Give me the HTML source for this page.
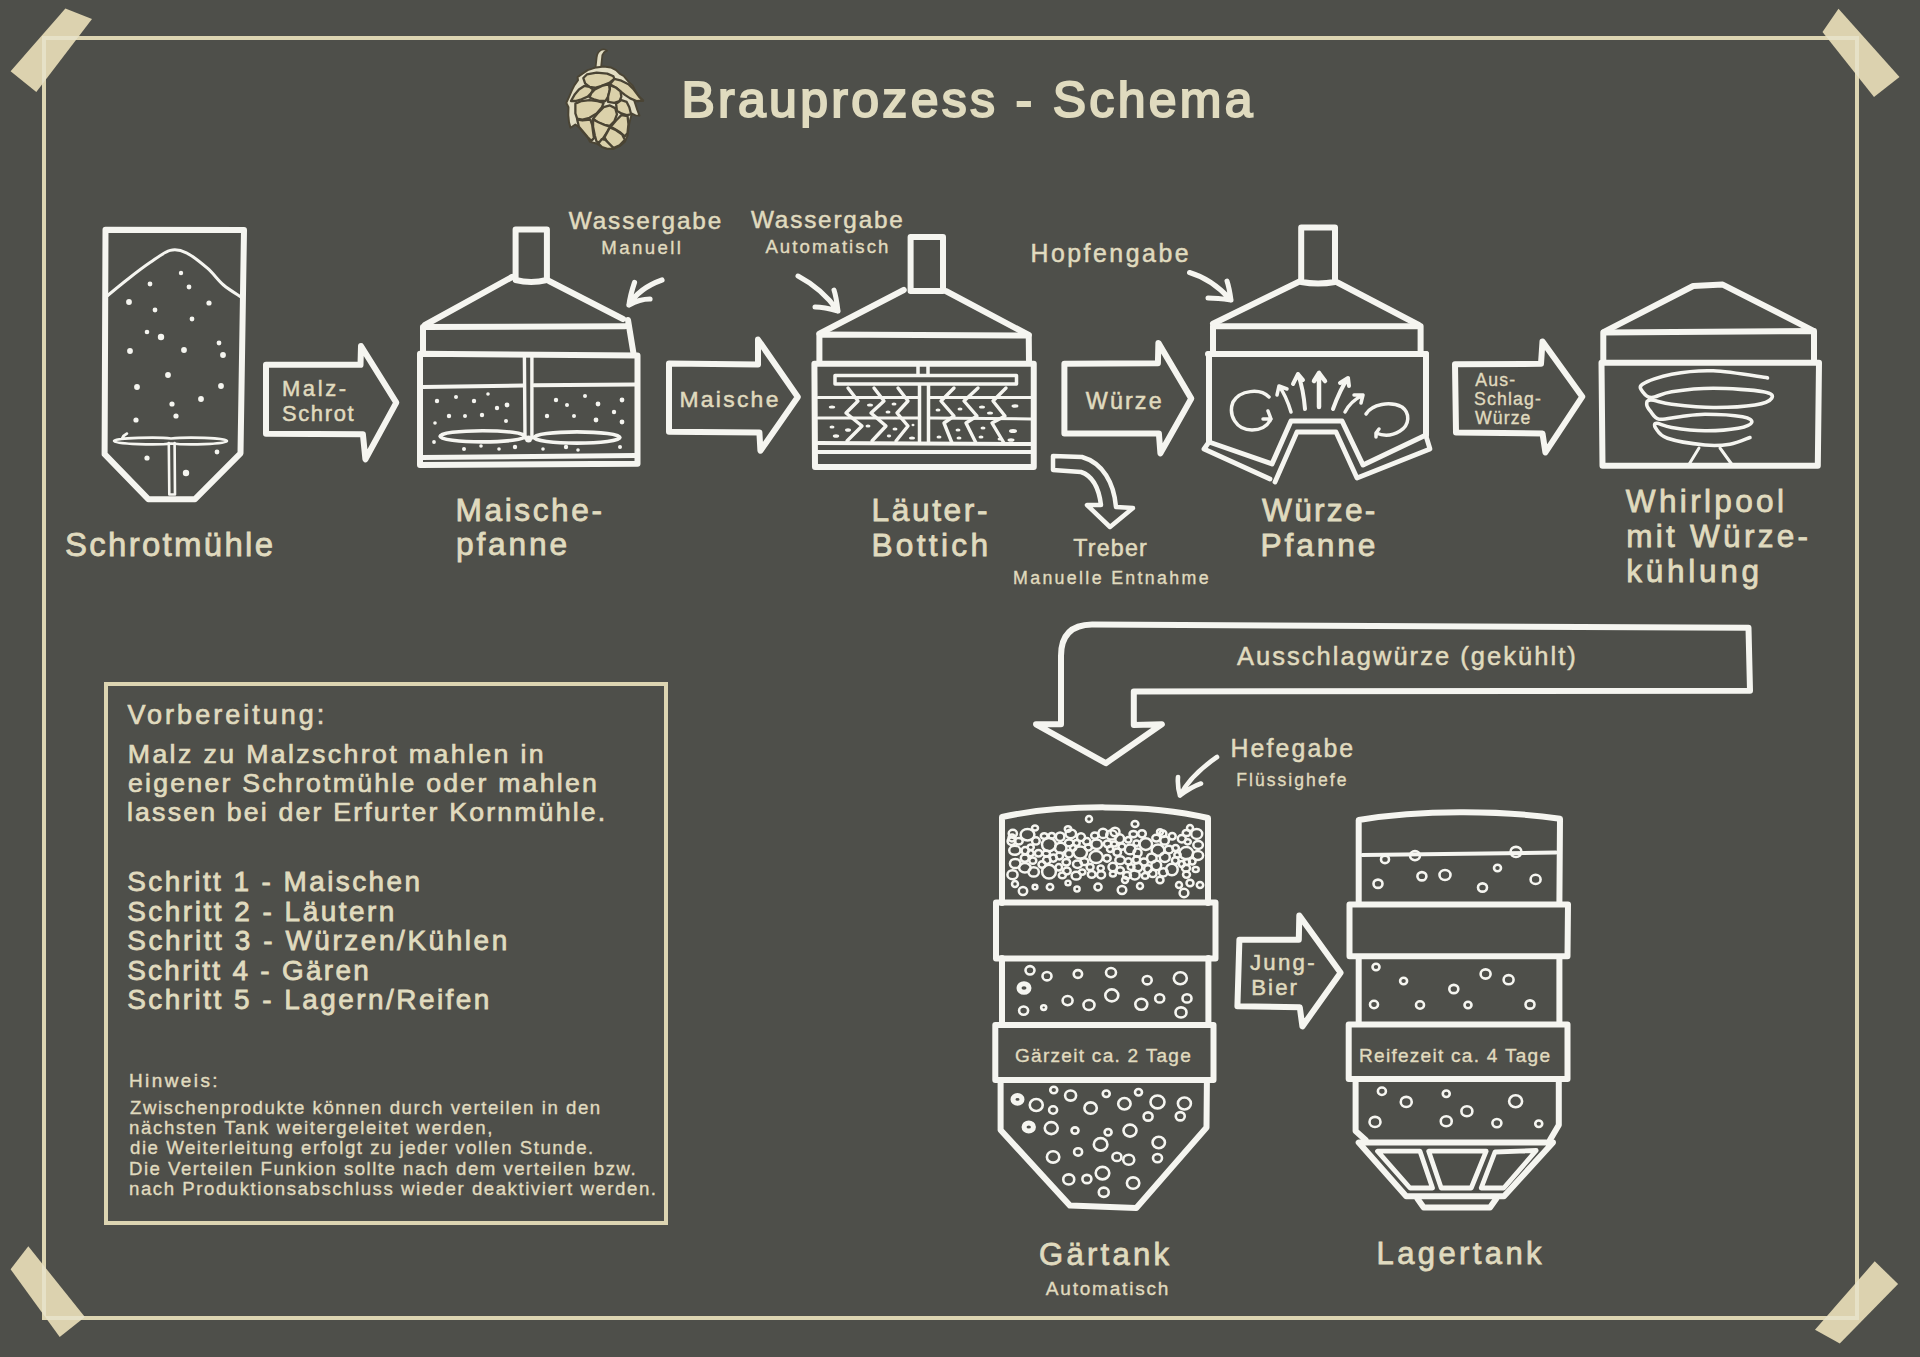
<!DOCTYPE html>
<html>
<head>
<meta charset="utf-8">
<style>
html,body{margin:0;padding:0;background:#4e4f4a;}
body{width:1920px;height:1357px;overflow:hidden;}
svg{display:block;}
text{font-family:"Liberation Sans",sans-serif;fill:#e0dbbf;stroke:#e0dbbf;stroke-width:0.7px;}
.w{fill:none;stroke:#f5f5f0;stroke-width:6;stroke-linejoin:round;stroke-linecap:round;}
.wt{fill:none;stroke:#f5f5f0;stroke-width:3.5;stroke-linejoin:round;stroke-linecap:round;}
.wn{fill:none;stroke:#f5f5f0;stroke-width:2.5;stroke-linejoin:round;stroke-linecap:round;}
.dot{fill:#f5f5f0;}
.bub{fill:none;stroke:#f5f5f0;stroke-width:2.6;}
</style>
</head>
<body>
<svg width="1920" height="1357" viewBox="0 0 1920 1357">
<rect x="0" y="0" width="1920" height="1357" fill="#4e4f4a"/>
<!-- frame -->
<rect x="44" y="38" width="1813" height="1280" fill="none" stroke="#ddd5b2" stroke-width="4"/>
<!-- tapes -->
<g fill="#dcd2af">
<polygon points="65.4,8.4 92,19 36.3,92 10.6,71.2"/>
<polygon points="1838.5,8.8 1899.5,77 1874,97 1822.5,32"/>
<polygon points="28.3,1246.3 84.9,1317 59.7,1337 10.6,1269.3"/>
<polygon points="1874.7,1261.3 1898.1,1283.9 1839.8,1343.5 1815,1329.8"/>
</g>
<clipPath id="tapeclip">
<polygon points="65.4,8.4 92,19 36.3,92 10.6,71.2"/>
<polygon points="1838.5,8.8 1899.5,77 1874,97 1822.5,32"/>
<polygon points="28.3,1246.3 84.9,1317 59.7,1337 10.6,1269.3"/>
<polygon points="1874.7,1261.3 1898.1,1283.9 1839.8,1343.5 1815,1329.8"/>
</clipPath>
<rect clip-path="url(#tapeclip)" x="44" y="38" width="1813" height="1280" fill="none" stroke="#e6e1c7" stroke-width="4"/>

<!-- TITLE -->

<g transform="translate(540,40) scale(0.08844)" stroke="#4a4434" stroke-linejoin="round">
<path fill="#e2ddc3" stroke-width="20" d="M628,312 L640,200 C645,150 660,125 700,108 C725,102 745,108 758,120 C735,128 718,140 705,170 L690,312 Z"/>
<path fill="#e2ddc3" stroke-width="22" d="M640,310 L720,300 L800,310 L860,340 L900,380 L950,410 L1000,470 L1050,520 L1090,600 L1120,650 L1165,685 L1100,692 L1060,670 L1080,730 L1100,790 L1125,855 L1080,852 L1040,832 L1020,900 L1000,990 L990,1080 L960,1150 L900,1200 L830,1232 L750,1225 L680,1195 L640,1170 L565,1152 L540,1100 L490,1040 L440,985 L400,955 L345,992 L328,930 L320,850 L322,760 L298,712 L330,640 L360,570 L390,510 L430,455 L425,420 L480,380 L540,340 L600,320 Z"/>
<path fill="#dbd1aa" stroke-width="26" d="M490,430 L530,390 L640,370 L760,380 L830,410 L840,440 L790,480 L690,520 L620,540 L560,530 L510,490 Z"/>
<path fill="#dbd1aa" stroke-width="26" d="M840,440 L920,460 L1000,500 L1060,560 L1120,640 L1165,685 L1090,690 L1020,660 L960,620 L910,580 L860,540 L790,500 Z"/>
<path fill="#dbd1aa" stroke-width="26" d="M350,690 L390,620 L440,560 L500,520 L560,530 L600,560 L580,600 L540,640 L470,670 L400,690 Z"/>
<path fill="#dbd1aa" stroke-width="26" d="M560,650 L580,600 L620,560 L700,520 L780,500 L790,560 L770,640 L740,690 L680,690 L610,670 Z"/>
<path fill="#dbd1aa" stroke-width="26" d="M790,510 L860,540 L910,580 L920,640 L900,690 L840,710 L770,700 L770,640 L790,560 Z"/>
<path fill="#dbd1aa" stroke-width="26" d="M400,720 L470,690 L560,680 L650,690 L720,710 L700,760 L640,830 L560,880 L480,900 L420,890 L400,830 Z"/>
<path fill="#dbd1aa" stroke-width="26" d="M860,720 L920,680 L980,700 L1010,760 L1030,840 L980,850 L920,830 L870,800 Z"/>
<path fill="#dbd1aa" stroke-width="26" d="M600,890 L650,830 L720,760 L790,740 L850,770 L870,840 L840,920 L790,970 L720,960 L650,930 Z"/>
<path fill="#dbd1aa" stroke-width="26" d="M800,980 L860,910 L920,850 L990,860 L1000,950 L990,1050 L960,1090 L900,1040 L850,1010 Z"/>
<path fill="#dbd1aa" stroke-width="26" d="M420,900 L480,910 L570,900 L590,960 L600,1040 L610,1110 L580,1140 L540,1100 L490,1040 L440,980 Z"/>
<path fill="#dbd1aa" stroke-width="26" d="M600,900 L660,930 L730,960 L790,980 L760,1040 L720,1100 L680,1160 L640,1150 L620,1080 L600,980 Z"/>
<path fill="#dbd1aa" stroke-width="26" d="M730,1100 L790,990 L860,1020 L930,1070 L960,1130 L900,1190 L830,1222 L760,1160 Z"/>
<path fill="#dbd1aa" stroke-width="26" d="M660,1170 L700,1120 L740,1130 L790,1180 L830,1222 L760,1230 L700,1210 Z"/>
</g>

<!-- SCHROTMUEHLE -->
<g>
<path class="w" d="M105.5,229.7 L244,230 L240.5,453.3 L195,499.2 L148.3,499.2 L104.6,454.2 Z"/>
<path class="wt" style="stroke-width:3px" d="M107.0,296.0 C110.5,293.2 120.8,284.6 128.0,279.0 C135.2,273.4 142.9,267.4 150.0,262.6 C157.1,257.8 164.2,252.0 170.3,250.4 C176.4,248.8 180.2,249.8 186.4,252.8 C192.6,255.8 201.2,262.8 207.4,268.2 C213.6,273.6 217.9,280.2 223.5,285.0 C229.1,289.8 238.1,295.0 241.0,297.0"/>
<path class="wn" style="stroke-width:2.6px" d="M114,441 C114,437.5 160,437 171,438.5 C185,437 227,437.5 227,441 C227,444.5 185,445 171,443.5 C160,445 114,444.5 114,441 Z M122,438.5 C123,436 125,434.5 127,433.5"/>
<path class="wn" style="stroke-width:2.6px" d="M168.8,443 L169.3,494.5 L175,494.5 L174.6,443"/>
<g class="dot">
<circle cx="181" cy="273" r="2.2"/><circle cx="150" cy="284" r="2.4"/><circle cx="189" cy="287" r="2.4"/>
<circle cx="129" cy="302" r="2.9"/><circle cx="209" cy="303" r="2.6"/><circle cx="155" cy="310" r="2.4"/>
<circle cx="192" cy="319" r="2.4"/><circle cx="147" cy="332" r="2.3"/><circle cx="161" cy="337" r="3.2"/>
<circle cx="219" cy="343" r="2.4"/><circle cx="130" cy="351" r="2.9"/><circle cx="184" cy="350" r="2.9"/>
<circle cx="223" cy="355" r="2.9"/><circle cx="168" cy="375" r="2.9"/><circle cx="137" cy="387" r="2.9"/>
<circle cx="221" cy="386" r="2.9"/><circle cx="201" cy="399" r="2.9"/><circle cx="172" cy="404" r="2.6"/>
<circle cx="176" cy="416" r="2.6"/><circle cx="136" cy="420" r="2.6"/><circle cx="147" cy="458" r="2.6"/>
<circle cx="217" cy="452" r="2.4"/><circle cx="186" cy="473" r="3.2"/>
</g>
</g>

<!-- arrow Malz-Schrot -->
<path class="w" d="M266,364.8 L360.5,364.8 L361,346 L396.3,402.6 L365.4,459.3 L362.9,434.3 L266,433.8 Z"/>

<!-- MAISCHEPFANNE -->
<g>
<path class="w" d="M515.6,280 L515.6,229.4 L546.9,229.4 L546.9,280 Q531,284 515.6,280 Z"/>
<path class="w" d="M512,277 L425,325 M549,281 L623,319"/>
<path class="w" d="M423,353 L423,327 L625,326.3 M628,320 L633.5,353.5"/>
<path class="w" d="M420,353.75 L637.5,355.6 L637.5,463.75 L420,465 Z"/>
<path class="w" style="stroke-width:4px" d="M423,386.9 L523,385.5 M534,385.3 L635,384.4"/>
<path class="w" style="stroke-width:5px" d="M422,457.5 L636,455.6"/>
<path class="wt" style="stroke-width:3.4px" d="M524.4,356 L525,438 M531.9,356 L531.9,438"/>
<ellipse class="wt" style="stroke-width:3.6px" cx="482.5" cy="436.3" rx="42.5" ry="5.6"/><ellipse class="wt" style="stroke-width:3.6px" cx="577" cy="437.5" rx="43" ry="5.6"/><circle cx="528.5" cy="439" r="3.5" fill="#f5f5f0"/>
<g class="dot">
<circle cx="437" cy="401" r="2.2"/><circle cx="456" cy="397" r="2.0"/><circle cx="474" cy="401" r="2.2"/>
<circle cx="488" cy="394" r="1.8"/><circle cx="497" cy="408" r="2.2"/><circle cx="507" cy="405" r="2.4"/>
<circle cx="449" cy="416" r="2.2"/><circle cx="465" cy="416" r="2.0"/><circle cx="482" cy="415" r="2.2"/>
<circle cx="435" cy="423" r="1.8"/><circle cx="506" cy="421" r="2.0"/>
<circle cx="556" cy="400" r="2.2"/><circle cx="585" cy="396" r="2.0"/><circle cx="598" cy="404" r="2.4"/>
<circle cx="622" cy="400" r="2.4"/><circle cx="567" cy="405" r="2.0"/><circle cx="547" cy="416" r="2.2"/>
<circle cx="574" cy="416" r="2.0"/><circle cx="596" cy="420" r="2.4"/><circle cx="614" cy="412" r="2.2"/>
<circle cx="622" cy="422" r="2.4"/>
<circle cx="434" cy="442" r="1.9"/><circle cx="464" cy="449" r="2.0"/><circle cx="481" cy="446" r="1.8"/>
<circle cx="499" cy="449" r="1.8"/><circle cx="515" cy="447" r="2.2"/><circle cx="543" cy="449" r="1.8"/>
<circle cx="566" cy="447" r="2.2"/><circle cx="578" cy="450" r="1.8"/><circle cx="620" cy="447" r="2.0"/>
</g>
</g>

<!-- Wassergabe Manuell -->
<path class="w" style="stroke-width:5.2px" d="M662,280 C648,285 636,293 629,305 M629,305 C630,297 632,290 634.5,282.5 M629,305 C636,301 643,299 650,299"/>

<!-- arrow Maische -->
<path class="w" d="M669,363.5 L758,364.5 L758,339.6 L797.8,397 L760.4,450.7 L759.4,432.5 L669,431.8 Z"/>

<!-- LAEUTERBOTTICH -->
<g>
<path class="w" d="M910.6,291 L910.6,237 L943,237 L943,291 Z"/>
<path class="w" d="M903.75,290 L819.4,333.75 M946.25,291.25 L1028.75,335"/>
<path class="w" d="M819.4,362.5 L819.4,334.4 L1028.75,335.6 L1029,362.5"/>
<path class="w" d="M814.4,363.75 L1033.75,363.75 L1033.75,467 L815,467 Z"/>
<path class="wt" d="M835,375.5 L1016.5,375.5 L1016.5,384 L835,384 Z"/>
<path class="wt" d="M918,364 L918,375 M928,364 L928,375"/>
<path class="wt" d="M919.5,385 L919.5,443 M928.5,385 L928.5,443"/>
<path class="wt" style="stroke-width:3px" d="M818,397.5 L918,397.5 M930,397.5 L1031,397.5"/>
<path class="wt" style="stroke-width:3px" d="M818,418 L918,418 M930,418 L1031,419"/>
<path class="w" style="stroke-width:4px" d="M818,443 L1031,444"/>
<path class="w" style="stroke-width:4px" d="M818,452 L1031,452"/>
<path class="wn" style="stroke-width:3.4px" d="M848,388 L858,401 L846,413 L862,426 L847,441 M874,388 L884,401 L871,413 L886,426 L872,441 M898,388 L908,401 L897,413 L908,426 L896,441"/>
<path class="wn" style="stroke-width:3.4px" d="M954,388 L941,401 L954,416 L944,423 L952,443 M978,388 L964,401 L977,416 L966,423 L976,443 M1006,388 L993,401 L1005,416 L992,423 L1004,443"/>
<g class="dot">
<ellipse cx="832" cy="407" rx="3.2" ry="1.6"/><ellipse cx="870" cy="405" rx="3" ry="1.6"/><ellipse cx="894" cy="404" rx="2.5" ry="1.5"/>
<ellipse cx="888" cy="412" rx="2.5" ry="1.5"/><ellipse cx="832" cy="427" rx="2.5" ry="1.6"/><ellipse cx="848" cy="430" rx="3" ry="1.8"/>
<ellipse cx="836" cy="436" rx="3.2" ry="1.8"/><ellipse cx="868" cy="426" rx="2.5" ry="1.5"/><ellipse cx="895" cy="429" rx="2.5" ry="1.6"/>
<ellipse cx="889" cy="436" rx="2.2" ry="1.4"/><ellipse cx="912" cy="438" rx="3" ry="1.6"/><ellipse cx="913" cy="425" rx="1.5" ry="1.2"/>
<ellipse cx="938" cy="410" rx="2.5" ry="1.5"/><ellipse cx="960" cy="409" rx="2.5" ry="1.5"/><ellipse cx="982" cy="407" rx="3" ry="1.6"/>
<ellipse cx="990" cy="413" rx="3" ry="1.6"/><ellipse cx="1015" cy="406" rx="3.5" ry="1.8"/><ellipse cx="958" cy="430" rx="2.5" ry="1.5"/>
<ellipse cx="983" cy="428" rx="2.5" ry="1.5"/><ellipse cx="1013" cy="431" rx="4" ry="2"/><ellipse cx="939" cy="437" rx="2.5" ry="1.5"/>
<ellipse cx="959" cy="438" rx="2.5" ry="1.6"/><ellipse cx="981" cy="437" rx="2.5" ry="1.5"/><ellipse cx="1000" cy="439" rx="2.5" ry="1.6"/>
<ellipse cx="1011" cy="440" rx="3.5" ry="1.8"/>
</g>
</g>

<!-- Wassergabe Automatisch -->
<path class="w" style="stroke-width:5px" d="M798,276 C815,285 828,297 838,311 M838,311 C837,303 836,296 834,290 M838,311 C831,309 823,307 815,307"/>

<!-- arrow Wuerze -->
<path class="w" d="M1064.4,363.8 L1157.9,363.3 L1158.4,342.9 L1191.3,398.6 L1160.4,453.3 L1158.9,433.5 L1064.4,433.5 Z"/>

<!-- Treber arrow -->
<path class="w" style="stroke-width:4.5px" d="M1053,456 L1082,457 C1103,463 1114,483 1116,507 L1133,508 L1110,527 L1087,505 L1101,505 C1099,489 1093,476 1081,472 L1053,470 Z"/>

<!-- Hopfengabe -->
<path class="w" style="stroke-width:5px" d="M1189.5,272.5 C1205,277 1220,288 1231,300 M1231,300 C1230,293 1229,287 1227,281 M1231,300 C1224,299 1216,298 1208,298"/>

<!-- WUERZEPFANNE -->
<g>
<path class="w" d="M1301.2,282 L1301.2,227.5 L1335,227.5 L1335,282 Q1318,285 1301.2,282 Z"/>
<path class="w" d="M1300,281.25 L1213,323.75 M1337.5,282.5 L1418.75,325"/>
<path class="w" d="M1213,351.25 L1213,326.25 L1420.6,326.25 L1420.6,351.25"/>
<path class="w" d="M1208,354 L1426,354"/>
<path class="w" d="M1209,354 L1209,442 M1426,435 L1426,354"/><path class="w" style="stroke-width:5px" d="M1209,442 L1272,464 L1291,421 L1342,421 L1363,465 L1426,435"/>
<path class="w" style="stroke-width:4.8px" d="M1209,442 L1204,449 L1270,479"/>
<path class="w" style="stroke-width:4.8px" d="M1275,482 L1297,432 L1336,432 L1357,478 L1430,449 L1426,436"/>
<!-- swirl arrows -->
<path class="wt" d="M1269,397 C1260,388 1240,390 1233,402 C1228,415 1236,430 1252,430 C1262,430 1268,425 1271,419 M1271,419 L1268,411 M1271,419 L1263,419"/>
<path class="wt" d="M1366,414 C1372,404 1390,401 1402,407 C1410,413 1410,425 1400,431 C1392,436 1383,436 1376,433 M1376,433 L1379,429 M1376,433 L1376,437"/>
<path class="wt" style="stroke-width:3.5px" d="M1291,412 C1288,402 1285,394 1279,386 M1279,386 L1277,395 M1279,386 L1287,389"/>
<path class="wt" style="stroke-width:4px" d="M1305,409 C1304,397 1302,385 1298,374 M1298,374 L1293,384 M1298,374 L1303,380"/>
<path class="wt" style="stroke-width:4.5px" d="M1319,407 L1319,373 M1319,373 L1314,381 M1319,373 L1325,381"/>
<path class="wt" style="stroke-width:4px" d="M1333,409 C1337,398 1341,388 1348,378 M1348,378 L1340,383 M1348,378 L1349,386"/>
<path class="wt" style="stroke-width:3.5px" d="M1345,412 C1349,404 1355,399 1363,395 M1363,395 L1354,395 M1363,395 L1361,403"/>
</g>

<!-- arrow Ausschlag -->
<path class="w" d="M1455,364.3 L1541,363.8 L1542.5,341.4 L1582.3,396.7 L1545.4,452.4 L1542.5,433.5 L1456,432.5 Z"/>

<!-- WHIRLPOOL -->
<g>
<path class="w" d="M1604,331.8 L1693.2,286 L1722.7,284.6 L1812.6,330.3"/>
<path class="w" d="M1603.3,362 L1603.3,332.5 L1814,331 L1814,362"/>
<path class="w" d="M1601.5,362.7 L1819,362.7 L1817.8,465.8 L1602.5,465.8 Z"/>
<path class="wt" style="stroke-width:3.6px" d="M1767.5,377.9 C1758.5,376.7 1729.3,371.4 1713.3,370.8 C1697.3,370.2 1683.5,372.0 1671.7,374.2 C1659.9,376.4 1647.2,381.1 1642.5,384.2 C1637.8,387.2 1641.8,390.3 1643.3,392.5 C1644.8,394.7 1647.0,397.6 1651.7,397.5 C1656.4,397.4 1661.4,393.2 1671.7,391.7 C1682.0,390.2 1698.0,388.3 1713.3,388.3 C1728.6,388.3 1753.6,390.0 1763.3,391.7 C1773.0,393.4 1773.1,396.1 1771.7,398.3 C1770.3,400.5 1764.7,403.5 1755.0,405.0 C1745.3,406.5 1727.2,407.6 1713.3,407.5 C1699.4,407.4 1682.1,405.4 1671.7,404.2 C1661.3,402.9 1655.0,400.0 1650.8,400.0 C1646.6,400.0 1646.7,402.2 1646.7,404.2 C1646.7,406.1 1648.7,409.2 1650.8,411.7 C1652.9,414.2 1654.3,418.4 1659.2,419.2 C1664.1,420.0 1672.4,417.5 1680.0,416.7 C1687.6,415.9 1694.6,414.2 1705.0,414.2 C1715.4,414.2 1734.7,415.3 1742.5,416.7 C1750.3,418.1 1752.4,420.6 1751.7,422.5 C1751.0,424.4 1746.1,426.9 1738.3,428.3 C1730.5,429.7 1716.1,430.9 1705.0,430.8 C1693.9,430.7 1679.8,428.8 1671.7,427.5 C1663.7,426.2 1659.4,423.2 1656.7,423.3 C1654.0,423.4 1654.0,425.8 1655.8,428.3 C1657.6,430.8 1659.3,435.5 1667.5,438.3 C1675.7,441.1 1694.6,444.0 1705.0,445.0 C1715.4,446.0 1722.5,445.4 1730.0,444.2 C1737.5,442.9 1746.7,438.6 1750.0,437.5"/>
<path class="wn" style="stroke-width:3px" d="M1699,448 L1688,466 M1720,448 L1733,466"/>
</g>

<!-- Ausschlagwuerze big arrow -->
<path class="w" d="M1748.5,627.7 L1092,624.6 Q1061,625 1061,656 L1061,724.3 L1036,724.3 L1105.8,763.2 L1161.8,724.3 L1133.8,725 L1133.8,691.5 L1750,690.7 Z"/>

<!-- Hefegabe -->
<path class="w" style="stroke-width:4.6px" d="M1217,757 C1204,766 1189,778 1180,795.5 M1180,795.5 C1178,789 1177.5,783 1178,777 M1180,795.5 C1187,790 1194,786 1201,783.5"/>

<!-- GAERTANK -->
<g>
<path class="w" d="M1002,903 L1002,817 C1060,804 1150,804 1208,818 L1208,903"/>
<path class="w" d="M996,902.5 L1215.5,902.5 L1215.5,958.5 L996,958.5 Z"/>
<path class="w" d="M1002,958 L1002,1025 M1208.4,958 L1208.4,1025"/>
<path class="w" d="M995.3,1025 L1213.5,1025 L1213.5,1080 L995.3,1080 Z"/>
<path class="w" d="M1000.6,1080 L1000.6,1130 L1070,1205.6 L1136.3,1208 L1206.5,1127.5 L1206.9,1080"/>
<g class="bub" style="stroke-width:2.5px"><ellipse cx="1096.1" cy="857.1" rx="6.7" ry="6.0"/><ellipse cx="1107.0" cy="858.3" rx="3.7" ry="3.4"/><ellipse cx="1131.1" cy="867.1" rx="3.4" ry="2.9"/><ellipse cx="1024.9" cy="867.8" rx="5.8" ry="4.7"/><ellipse cx="1128.3" cy="839.8" rx="3.1" ry="2.8"/><ellipse cx="1018.7" cy="841.2" rx="4.0" ry="3.2"/><ellipse cx="1137.5" cy="852.7" rx="4.1" ry="4.1"/><ellipse cx="1069.1" cy="842.9" rx="4.2" ry="3.4"/><ellipse cx="1158.0" cy="850.2" rx="6.4" ry="5.6"/><ellipse cx="1195.7" cy="869.4" rx="3.0" ry="2.5"/><ellipse cx="1186.3" cy="853.2" rx="6.9" ry="6.1"/><ellipse cx="1060.1" cy="836.7" rx="4.3" ry="4.3"/><ellipse cx="1156.3" cy="838.1" rx="4.0" ry="3.3"/><ellipse cx="1117.2" cy="852.2" rx="3.8" ry="3.6"/><ellipse cx="1032.8" cy="860.7" rx="3.5" ry="3.1"/><ellipse cx="1048.9" cy="844.6" rx="6.9" ry="6.6"/><ellipse cx="1066.9" cy="871.0" rx="3.8" ry="3.4"/><ellipse cx="1175.3" cy="860.6" rx="3.4" ry="3.4"/><ellipse cx="1024.8" cy="858.1" rx="4.0" ry="3.7"/><ellipse cx="1080.2" cy="852.5" rx="6.8" ry="6.1"/><ellipse cx="1120.2" cy="870.3" rx="3.7" ry="3.1"/><ellipse cx="1186.0" cy="868.2" rx="4.0" ry="3.4"/><ellipse cx="1152.7" cy="873.4" rx="3.8" ry="3.7"/><ellipse cx="1027.5" cy="834.7" rx="6.9" ry="5.8"/><ellipse cx="1145.8" cy="844.1" rx="6.3" ry="5.8"/><ellipse cx="1187.7" cy="841.8" rx="3.1" ry="2.6"/><ellipse cx="1094.8" cy="835.6" rx="3.7" ry="3.2"/><ellipse cx="1119.7" cy="838.7" rx="4.4" ry="4.4"/><ellipse cx="1196.7" cy="833.9" rx="5.5" ry="5.0"/><ellipse cx="1163.3" cy="872.3" rx="4.4" ry="4.1"/><ellipse cx="1130.1" cy="849.4" rx="5.3" ry="4.9"/><ellipse cx="1151.8" cy="858.0" rx="4.8" ry="4.6"/><ellipse cx="1066.3" cy="862.2" rx="3.8" ry="3.2"/><ellipse cx="1121.9" cy="846.6" rx="3.5" ry="3.2"/><ellipse cx="1171.9" cy="869.5" rx="5.8" ry="5.8"/><ellipse cx="1015.2" cy="863.5" rx="5.3" ry="4.6"/><ellipse cx="1162.9" cy="833.8" rx="3.5" ry="3.2"/><ellipse cx="1046.3" cy="853.4" rx="3.7" ry="3.0"/><ellipse cx="1060.7" cy="847.9" rx="5.8" ry="5.2"/><ellipse cx="1049.0" cy="871.7" rx="6.9" ry="6.9"/><ellipse cx="1112.8" cy="867.0" rx="4.3" ry="4.2"/><ellipse cx="1175.6" cy="848.0" rx="3.3" ry="3.0"/><ellipse cx="1164.6" cy="840.4" rx="4.3" ry="4.2"/><ellipse cx="1197.8" cy="855.5" rx="5.3" ry="4.4"/><ellipse cx="1012.5" cy="874.7" rx="5.1" ry="4.5"/><ellipse cx="1164.8" cy="857.2" rx="5.0" ry="4.7"/><ellipse cx="1011.5" cy="841.3" rx="3.9" ry="3.7"/><ellipse cx="1107.6" cy="843.8" rx="3.8" ry="3.4"/><ellipse cx="1181.8" cy="838.8" rx="4.0" ry="3.7"/><ellipse cx="1090.1" cy="867.0" rx="3.5" ry="3.1"/><ellipse cx="1142.0" cy="833.8" rx="3.8" ry="3.6"/><ellipse cx="1186.5" cy="874.6" rx="3.5" ry="3.1"/><ellipse cx="1044.2" cy="836.0" rx="3.4" ry="2.8"/><ellipse cx="1035.9" cy="840.9" rx="3.8" ry="3.7"/><ellipse cx="1086.8" cy="841.4" rx="3.7" ry="3.3"/><ellipse cx="1081.0" cy="837.2" rx="4.0" ry="3.9"/><ellipse cx="1038.5" cy="853.3" rx="3.7" ry="3.3"/><ellipse cx="1101.1" cy="874.8" rx="4.0" ry="3.6"/><ellipse cx="1096.7" cy="844.3" rx="5.3" ry="4.7"/><ellipse cx="1172.2" cy="836.2" rx="3.5" ry="3.3"/><ellipse cx="1077.5" cy="864.2" rx="4.5" ry="3.7"/><ellipse cx="1136.5" cy="843.2" rx="3.0" ry="2.7"/><ellipse cx="1059.5" cy="856.0" rx="3.6" ry="3.4"/><ellipse cx="1084.3" cy="861.7" rx="4.0" ry="3.4"/><ellipse cx="1168.8" cy="849.6" rx="4.3" ry="3.8"/><ellipse cx="1147.9" cy="868.9" rx="3.8" ry="3.7"/><ellipse cx="1033.7" cy="871.9" rx="5.2" ry="4.7"/><ellipse cx="1156.3" cy="865.3" rx="4.9" ry="4.9"/><ellipse cx="1112.9" cy="873.9" rx="3.0" ry="2.5"/><ellipse cx="1046.8" cy="860.2" rx="3.8" ry="3.7"/><ellipse cx="1137.9" cy="867.0" rx="4.5" ry="4.2"/><ellipse cx="1111.6" cy="834.9" rx="5.4" ry="4.6"/><ellipse cx="1058.8" cy="867.3" rx="3.3" ry="3.2"/><ellipse cx="1014.8" cy="850.3" rx="5.6" ry="4.5"/><ellipse cx="1082.2" cy="872.1" rx="3.2" ry="2.6"/><ellipse cx="1030.7" cy="847.2" rx="3.1" ry="2.8"/><ellipse cx="1070.8" cy="833.8" rx="5.3" ry="4.4"/><ellipse cx="1091.7" cy="874.4" rx="3.9" ry="3.4"/><ellipse cx="1143.9" cy="861.9" rx="4.0" ry="3.5"/><ellipse cx="1145.1" cy="875.9" rx="3.3" ry="2.9"/><ellipse cx="1030.6" cy="853.2" rx="3.1" ry="3.0"/><ellipse cx="1068.9" cy="853.8" rx="3.9" ry="3.7"/><ellipse cx="1103.0" cy="833.4" rx="4.6" ry="4.6"/><ellipse cx="1192.3" cy="861.3" rx="3.3" ry="3.2"/><ellipse cx="1073.1" cy="847.9" rx="3.1" ry="2.9"/><ellipse cx="1100.7" cy="868.2" rx="3.1" ry="2.7"/><ellipse cx="1053.3" cy="858.1" rx="3.6" ry="3.6"/><ellipse cx="1120.1" cy="860.2" rx="4.8" ry="4.0"/><ellipse cx="1198.1" cy="845.0" rx="4.8" ry="3.9"/><ellipse cx="1127.0" cy="875.4" rx="3.9" ry="3.3"/><ellipse cx="1133.4" cy="834.1" rx="3.9" ry="3.2"/><ellipse cx="1025.2" cy="850.7" rx="3.6" ry="3.6"/><ellipse cx="1177.5" cy="854.9" rx="3.2" ry="2.7"/><ellipse cx="1051.8" cy="835.7" rx="3.2" ry="2.8"/><ellipse cx="1186.9" cy="862.1" rx="3.1" ry="3.0"/><ellipse cx="1076.2" cy="875.7" rx="4.6" ry="3.9"/><ellipse cx="1128.4" cy="861.3" rx="3.4" ry="3.1"/><ellipse cx="1042.1" cy="864.5" rx="3.6" ry="3.2"/><ellipse cx="1110.1" cy="849.1" rx="3.1" ry="3.0"/><ellipse cx="1186.5" cy="833.0" rx="3.8" ry="3.1"/><ellipse cx="1136.6" cy="859.8" rx="3.6" ry="3.6"/><ellipse cx="1181.8" cy="863.9" rx="3.0" ry="3.0"/><ellipse cx="1076.5" cy="842.9" rx="3.2" ry="3.0"/><ellipse cx="1134.8" cy="875.0" rx="5.0" ry="4.4"/><ellipse cx="1062.3" cy="875.4" rx="3.5" ry="2.9"/><ellipse cx="1012.8" cy="833.4" rx="4.1" ry="3.6"/><ellipse cx="1114.1" cy="844.0" rx="3.1" ry="2.5"/><ellipse cx="1088.3" cy="847.5" rx="3.6" ry="3.0"/><ellipse cx="1089.0" cy="819.0" rx="3.0" ry="3.0"/><ellipse cx="1068.0" cy="829.0" rx="3.2" ry="2.8"/><ellipse cx="1135.0" cy="824.0" rx="3.4" ry="3.0"/><ellipse cx="1035.0" cy="828.0" rx="3.0" ry="2.6"/><ellipse cx="1115.0" cy="832.0" rx="4.5" ry="4.3"/><ellipse cx="1160.0" cy="832.0" rx="3.0" ry="2.8"/><ellipse cx="1190.0" cy="828.0" rx="3.0" ry="3.0"/><ellipse cx="1012.0" cy="838.0" rx="3.5" ry="3.5"/><ellipse cx="1015.0" cy="884.0" rx="3.0" ry="3.0"/><ellipse cx="1023.0" cy="891.0" rx="4.2" ry="4.0"/><ellipse cx="1035.0" cy="887.0" rx="2.4" ry="2.2"/><ellipse cx="1050.0" cy="887.0" rx="3.2" ry="3.0"/><ellipse cx="1068.0" cy="883.0" rx="2.5" ry="2.3"/><ellipse cx="1077.0" cy="889.0" rx="2.6" ry="2.5"/><ellipse cx="1098.0" cy="887.0" rx="3.6" ry="3.4"/><ellipse cx="1122.0" cy="890.0" rx="4.3" ry="4.0"/><ellipse cx="1140.0" cy="886.0" rx="3.0" ry="3.0"/><ellipse cx="1160.0" cy="880.0" rx="3.5" ry="3.3"/><ellipse cx="1179.0" cy="885.0" rx="3.0" ry="3.0"/><ellipse cx="1190.0" cy="883.0" rx="3.5" ry="3.3"/><ellipse cx="1184.0" cy="893.0" rx="4.4" ry="4.2"/><ellipse cx="1200.0" cy="885.0" rx="3.2" ry="3.0"/><ellipse cx="1125.0" cy="880.0" rx="3.0" ry="3.0"/></g>
<g class="bub"><ellipse cx="1030" cy="970.3" rx="4.5" ry="4.14"/><ellipse cx="1047" cy="976.2" rx="4.5" ry="4.14"/><ellipse cx="1077.9" cy="974" rx="4.2" ry="3.86"/><ellipse cx="1111" cy="972.6" rx="5" ry="4.60"/><ellipse cx="1147.2" cy="980.2" rx="4.5" ry="4.14"/><ellipse cx="1180.3" cy="978.2" rx="6.5" ry="5.98"/><ellipse cx="1111.8" cy="995.4" rx="6.5" ry="5.98"/><ellipse cx="1067.6" cy="1000.6" rx="5" ry="4.60"/><ellipse cx="1089" cy="1005" rx="5.5" ry="5.06"/><ellipse cx="1141.3" cy="1004.3" rx="6" ry="5.52"/><ellipse cx="1159.7" cy="998.4" rx="4.5" ry="4.14"/><ellipse cx="1187" cy="998.4" rx="4.5" ry="4.14"/><ellipse cx="1023.6" cy="1010.6" rx="4.5" ry="4.14"/><ellipse cx="1043.7" cy="1007.6" rx="2.5" ry="2.30"/><ellipse cx="1181" cy="1012.4" rx="5.5" ry="5.06"/><ellipse cx="1036.25" cy="1105" rx="6.5" ry="5.98"/><ellipse cx="1053.1" cy="1110" rx="4" ry="3.68"/><ellipse cx="1053.75" cy="1090" rx="3.5" ry="3.22"/><ellipse cx="1070.6" cy="1095.6" rx="5.5" ry="5.06"/><ellipse cx="1090.6" cy="1108.1" rx="6.2" ry="5.70"/><ellipse cx="1106.25" cy="1093.75" rx="3.5" ry="3.22"/><ellipse cx="1124.4" cy="1103.75" rx="6.2" ry="5.70"/><ellipse cx="1138.5" cy="1092.25" rx="3.5" ry="3.22"/><ellipse cx="1157.5" cy="1101.9" rx="7" ry="6.44"/><ellipse cx="1184.4" cy="1103.5" rx="6.5" ry="5.98"/><ellipse cx="1148.1" cy="1116.5" rx="4.5" ry="4.14"/><ellipse cx="1180.25" cy="1116.25" rx="4.5" ry="4.14"/><ellipse cx="1051.25" cy="1128.1" rx="6.5" ry="5.98"/><ellipse cx="1075" cy="1130.6" rx="3.5" ry="3.22"/><ellipse cx="1108.1" cy="1132.25" rx="3.5" ry="3.22"/><ellipse cx="1130" cy="1130.6" rx="6.5" ry="5.98"/><ellipse cx="1158.75" cy="1142.5" rx="6.2" ry="5.70"/><ellipse cx="1100.6" cy="1144.4" rx="6.8" ry="6.26"/><ellipse cx="1053.1" cy="1156.9" rx="6.2" ry="5.70"/><ellipse cx="1078.1" cy="1151.9" rx="4" ry="3.68"/><ellipse cx="1116.9" cy="1156.9" rx="4.5" ry="4.14"/><ellipse cx="1128.75" cy="1159.75" rx="5.5" ry="5.06"/><ellipse cx="1157.5" cy="1158.1" rx="4.5" ry="4.14"/><ellipse cx="1068.75" cy="1179.4" rx="5.5" ry="5.06"/><ellipse cx="1086.9" cy="1179" rx="4.5" ry="4.14"/><ellipse cx="1102.5" cy="1173.1" rx="6.8" ry="6.26"/><ellipse cx="1133.1" cy="1183.1" rx="6.2" ry="5.70"/><ellipse cx="1103.75" cy="1192.25" rx="5" ry="4.60"/></g>
<g class="bub" style="stroke-width:5px"><ellipse cx="1024" cy="988" rx="5.0" ry="4.25"/><ellipse cx="1017.5" cy="1099.4" rx="4.5" ry="3.82"/><ellipse cx="1028.75" cy="1126.9" rx="4.7" ry="4.00"/></g>
</g>

<!-- Jung-Bier arrow -->
<path class="w" d="M1239.4,939.7 L1298.8,939.7 L1299.3,915.5 L1340.6,972.7 L1302.4,1026.4 L1299.8,1007.3 L1237.4,1006.3 Z"/>

<!-- LAGERTANK -->
<g>
<path class="w" d="M1358.7,903 L1358.7,820 C1420,810 1500,810 1560,818.7 L1559.4,903"/>
<path class="wt" style="stroke-width:4px" d="M1362.5,855 L1556,852.5"/>
<path class="w" d="M1349.5,904.4 L1568,904.4 L1567.5,956.3 L1349.5,956.3 Z"/>
<path class="w" d="M1358.7,957 L1358.7,1024 M1559.4,957 L1559.4,1024"/>
<path class="w" d="M1348.7,1024.6 L1567.5,1024.6 L1567.5,1079 L1348.7,1079 Z"/>
<path class="w" d="M1355.6,1080 L1355.6,1131 L1365.6,1140 M1558.8,1080 L1558.8,1125 L1550,1140"/>
<path class="w" d="M1358.7,1142.5 L1553,1142.5 L1504,1196.2 L1406.2,1196.2 Z"/>
<path class="w" d="M1417.5,1198.7 L1423.7,1207.5 L1490,1207.5 L1496.2,1198.7"/>
<path class="w" style="stroke-width:4.8px" d="M1377.5,1151.2 L1420,1151.2 L1432.5,1188 L1410,1188 Z M1428.7,1151.2 L1486.2,1151.2 L1471.2,1188 L1441.2,1188 Z M1495,1152 L1536.2,1150.5 L1503.8,1188 L1481.2,1188 Z"/>
</g>
<g class="bub"><ellipse cx="1385" cy="859.4" rx="4" ry="3.68"/><ellipse cx="1415" cy="855.6" rx="5" ry="4.60"/><ellipse cx="1516" cy="851.9" rx="5.5" ry="5.06"/><ellipse cx="1497.5" cy="868" rx="3.5" ry="3.22"/><ellipse cx="1378" cy="883.75" rx="4.5" ry="4.14"/><ellipse cx="1421.9" cy="876.25" rx="4.5" ry="4.14"/><ellipse cx="1445" cy="875" rx="5.5" ry="5.06"/><ellipse cx="1482.5" cy="887.5" rx="4.5" ry="4.14"/><ellipse cx="1535.6" cy="879.4" rx="5" ry="4.60"/><ellipse cx="1376" cy="967" rx="3.5" ry="3.22"/><ellipse cx="1403.6" cy="981" rx="3.5" ry="3.22"/><ellipse cx="1485.6" cy="974" rx="5" ry="4.60"/><ellipse cx="1508.6" cy="979.7" rx="5" ry="4.60"/><ellipse cx="1453.8" cy="989" rx="4.5" ry="4.14"/><ellipse cx="1374" cy="1004.5" rx="4" ry="3.68"/><ellipse cx="1420" cy="1005" rx="4" ry="3.68"/><ellipse cx="1468" cy="1005" rx="3.5" ry="3.22"/><ellipse cx="1530" cy="1004.5" rx="4.5" ry="4.14"/><ellipse cx="1381.9" cy="1091.25" rx="4" ry="3.68"/><ellipse cx="1406.25" cy="1101.9" rx="5.5" ry="5.06"/><ellipse cx="1446.25" cy="1093.75" rx="3.5" ry="3.22"/><ellipse cx="1515.6" cy="1101.25" rx="6.5" ry="5.98"/><ellipse cx="1466.9" cy="1111.25" rx="5.5" ry="5.06"/><ellipse cx="1375" cy="1121.9" rx="5.5" ry="5.06"/><ellipse cx="1446.25" cy="1121.25" rx="5.5" ry="5.06"/><ellipse cx="1496.9" cy="1123.1" rx="4.5" ry="4.14"/><ellipse cx="1538.75" cy="1123.75" rx="3.5" ry="3.22"/></g>

<!-- INFO BOX -->
<rect x="106" y="684" width="560" height="539" fill="none" stroke="#ddd5b2" stroke-width="4"/>

<!-- TEXTS -->
<text style="stroke-width:2.0px" x="681.40" y="117.00" font-size="50.00" textLength="571.20" lengthAdjust="spacing">Brauprozess - Schema</text>
<text style="stroke-width:0.8px" x="65.00" y="555.85" font-size="32.96" textLength="208.00" lengthAdjust="spacing">Schrotmühle</text>
<text style="stroke-width:0.5px" x="282.00" y="396.35" font-size="21.93" textLength="64.00" lengthAdjust="spacing">Malz-</text>
<text style="stroke-width:0.5px" x="282.00" y="421.35" font-size="21.93" textLength="71.60" lengthAdjust="spacing">Schrot</text>
<text style="stroke-width:0.8px" x="455.60" y="520.85" font-size="31.70" textLength="146.40" lengthAdjust="spacing">Maische-</text>
<text style="stroke-width:0.8px" x="456.00" y="555.40" font-size="31.70" textLength="111.00" lengthAdjust="spacing">pfanne</text>
<text style="stroke-width:0.5px" x="568.80" y="228.55" font-size="24.30" textLength="152.40" lengthAdjust="spacing">Wassergabe</text>
<text style="stroke-width:0.35px" x="601.20" y="253.92" font-size="18.65" textLength="79.80" lengthAdjust="spacing">Manuell</text>
<text style="stroke-width:0.5px" x="679.40" y="407.25" font-size="22.91" textLength="99.00" lengthAdjust="spacing">Maische</text>
<text style="stroke-width:0.8px" x="871.40" y="521.00" font-size="31.70" textLength="116.20" lengthAdjust="spacing">Läuter-</text>
<text style="stroke-width:0.8px" x="871.40" y="555.80" font-size="31.70" textLength="116.60" lengthAdjust="spacing">Bottich</text>
<text style="stroke-width:0.5px" x="751.00" y="228.35" font-size="24.30" textLength="151.80" lengthAdjust="spacing">Wassergabe</text>
<text style="stroke-width:0.35px" x="765.40" y="252.72" font-size="18.65" textLength="123.00" lengthAdjust="spacing">Automatisch</text>
<text style="stroke-width:0.5px" x="1085.80" y="409.45" font-size="23.32" textLength="75.80" lengthAdjust="spacing">Würze</text>
<text style="stroke-width:0.5px" x="1073.20" y="555.65" font-size="23.32" textLength="73.60" lengthAdjust="spacing">Treber</text>
<text style="stroke-width:0.35px" x="1013.00" y="583.93" font-size="17.81" textLength="195.60" lengthAdjust="spacing">Manuelle Entnahme</text>
<text style="stroke-width:0.5px" x="1030.40" y="261.65" font-size="24.86" textLength="158.20" lengthAdjust="spacing">Hopfengabe</text>
<text style="stroke-width:0.8px" x="1262.00" y="520.80" font-size="31.70" textLength="113.40" lengthAdjust="spacing">Würze-</text>
<text style="stroke-width:0.8px" x="1260.40" y="555.60" font-size="31.70" textLength="115.00" lengthAdjust="spacing">Pfanne</text>
<text style="stroke-width:0.35px" x="1475.20" y="385.93" font-size="17.67" textLength="40.00" lengthAdjust="spacing">Aus-</text>
<text style="stroke-width:0.35px" x="1474.00" y="404.57" font-size="17.67" textLength="66.80" lengthAdjust="spacing">Schlag-</text>
<text style="stroke-width:0.35px" x="1475.00" y="424.22" font-size="17.67" textLength="55.40" lengthAdjust="spacing">Würze</text>
<text style="stroke-width:0.8px" x="1625.80" y="512.40" font-size="31.56" textLength="158.20" lengthAdjust="spacing">Whirlpool</text>
<text style="stroke-width:0.8px" x="1626.20" y="547.30" font-size="31.56" textLength="181.80" lengthAdjust="spacing">mit Würze-</text>
<text style="stroke-width:0.8px" x="1626.20" y="582.20" font-size="31.56" textLength="132.80" lengthAdjust="spacing">kühlung</text>
<text style="stroke-width:0.5px" x="1237.00" y="664.75" font-size="25.49" textLength="338.80" lengthAdjust="spacing">Ausschlagwürze (gekühlt)</text>
<text style="stroke-width:0.5px" x="1230.40" y="757.45" font-size="24.86" textLength="122.80" lengthAdjust="spacing">Hefegabe</text>
<text style="stroke-width:0.35px" x="1236.20" y="786.43" font-size="17.53" textLength="110.20" lengthAdjust="spacing">Flüssighefe</text>
<text style="stroke-width:0.35px" x="1015.00" y="1061.62" font-size="19.06" textLength="175.80" lengthAdjust="spacing">Gärzeit ca. 2 Tage</text>
<text style="stroke-width:0.8px" x="1039.00" y="1264.80" font-size="31.01" textLength="130.00" lengthAdjust="spacing">Gärtank</text>
<text style="stroke-width:0.35px" x="1045.80" y="1295.33" font-size="19.06" textLength="122.60" lengthAdjust="spacing">Automatisch</text>
<text style="stroke-width:0.5px" x="1250.00" y="969.55" font-size="22.21" textLength="64.60" lengthAdjust="spacing">Jung-</text>
<text style="stroke-width:0.5px" x="1251.20" y="995.15" font-size="22.21" textLength="45.80" lengthAdjust="spacing">Bier</text>
<text style="stroke-width:0.35px" x="1359.00" y="1061.62" font-size="19.06" textLength="191.00" lengthAdjust="spacing">Reifezeit ca. 4 Tage</text>
<text style="stroke-width:0.8px" x="1376.60" y="1263.50" font-size="31.01" textLength="165.00" lengthAdjust="spacing">Lagertank</text>
<text style="stroke-width:0.7px" x="127.60" y="723.85" font-size="26.96" textLength="196.60" lengthAdjust="spacing">Vorbereitung:</text>
<text style="stroke-width:0.7px" x="127.80" y="762.85" font-size="26.68" textLength="415.80" lengthAdjust="spacing">Malz zu Malzschrot mahlen in</text>
<text style="stroke-width:0.7px" x="128.00" y="792.15" font-size="26.68" textLength="468.80" lengthAdjust="spacing">eigener Schrotmühle oder mahlen</text>
<text style="stroke-width:0.7px" x="127.00" y="821.05" font-size="26.68" textLength="478.20" lengthAdjust="spacing">lassen bei der Erfurter Kornmühle.</text>
<text style="stroke-width:0.8px" x="127.20" y="890.85" font-size="27.93" textLength="292.80" lengthAdjust="spacing">Schritt 1 - Maischen</text>
<text style="stroke-width:0.8px" x="127.20" y="920.60" font-size="27.93" textLength="267.20" lengthAdjust="spacing">Schritt 2 - Läutern</text>
<text style="stroke-width:0.8px" x="127.20" y="950.10" font-size="27.93" textLength="380.00" lengthAdjust="spacing">Schritt 3 - Würzen/Kühlen</text>
<text style="stroke-width:0.8px" x="127.20" y="979.80" font-size="27.93" textLength="241.60" lengthAdjust="spacing">Schritt 4 - Gären</text>
<text style="stroke-width:0.8px" x="127.20" y="1009.30" font-size="27.93" textLength="362.20" lengthAdjust="spacing">Schritt 5 - Lagern/Reifen</text>
<text style="stroke-width:0.45px" x="129.00" y="1086.98" font-size="18.92" textLength="88.60" lengthAdjust="spacing">Hinweis:</text>
<text style="stroke-width:0.35px" x="130.00" y="1113.83" font-size="18.65" textLength="470.20" lengthAdjust="spacing">Zwischenprodukte können durch verteilen in den</text>
<text style="stroke-width:0.35px" x="129.00" y="1133.62" font-size="18.65" textLength="363.40" lengthAdjust="spacing">nächsten Tank weitergeleitet werden,</text>
<text style="stroke-width:0.35px" x="130.00" y="1154.12" font-size="18.65" textLength="463.20" lengthAdjust="spacing">die Weiterleitung erfolgt zu jeder vollen Stunde.</text>
<text style="stroke-width:0.35px" x="129.00" y="1174.83" font-size="18.65" textLength="506.60" lengthAdjust="spacing">Die Verteilen Funkion sollte nach dem verteilen bzw.</text>
<text style="stroke-width:0.35px" x="129.00" y="1194.62" font-size="18.65" textLength="527.00" lengthAdjust="spacing">nach Produktionsabschluss wieder deaktiviert werden.</text>
</svg>
</body>
</html>
